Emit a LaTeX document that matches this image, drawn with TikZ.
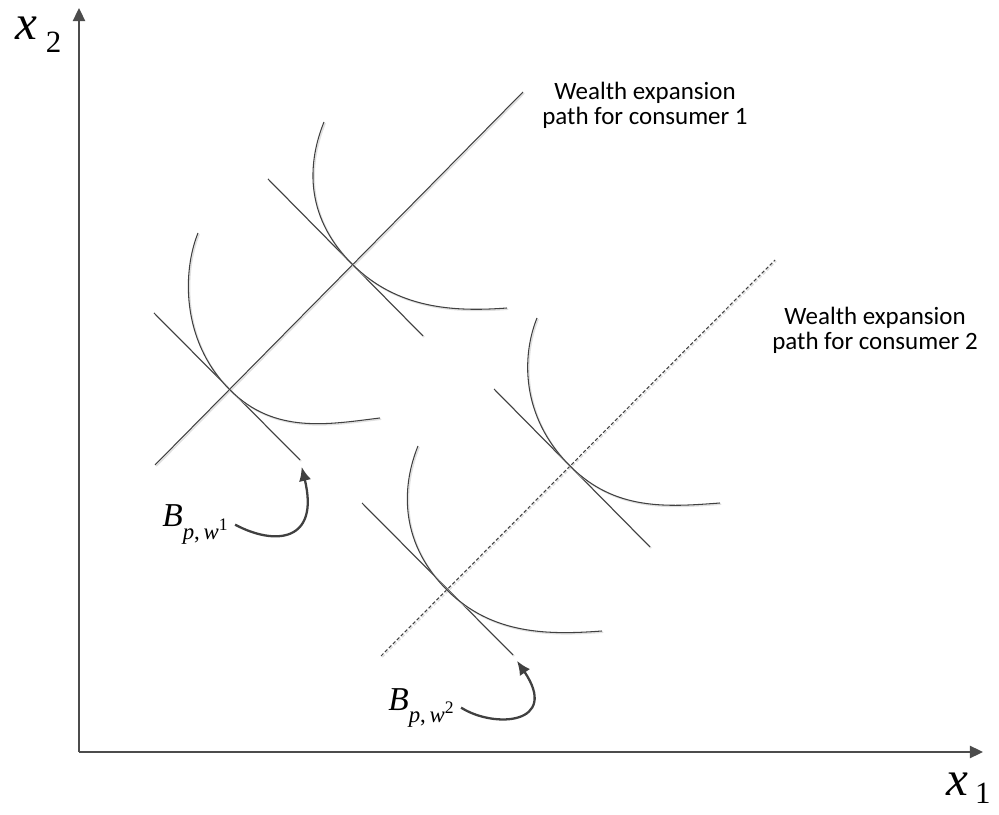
\documentclass[tikz,border=0pt]{standalone}
\usepackage{fontspec}
\setmainfont{Carlito}
\newfontfamily\eqfont{Liberation Serif}
\usetikzlibrary{arrows.meta}

\begin{document}
\begin{tikzpicture}[x=2cm, y=2cm,
	axis/.style={line width=1pt, color=black!70, -{Triangle[length=7.5pt, width=7pt]}},
	budget/.style={line width=0.6pt, color=black!75, preaction={draw, line width=0.8pt, color=black!12, transform canvas={shift={(0.7pt,-0.7pt)}}}},
	indiff/.style={budget},
	wealthone/.style={budget},
	wealthtwo/.style={line width=0.6pt, color=black!75, dash pattern=on 2pt off 1.2pt, preaction={draw, line width=0.8pt, color=black!12, dash pattern=on 2pt off 1.2pt, transform canvas={shift={(0.7pt,-0.7pt)}}}},
	pointer/.style={line width=1.3pt, color=black!75, -{Latex[length=8pt, width=7pt]}, shorten >=4pt},
	eqlabel/.style={inner sep=0pt, anchor=base west, font=\eqfont},
	note/.style={align=center, inner sep=0pt, font=\fontsize{14.2}{14.2}\selectfont}]
	\useasboundingbox (0,0) rectangle (9.99,8.14);

	% axes
	\coordinate (o) at (0.79,0.62);
	\coordinate (ytop) at (0.79,8.06);
	\coordinate (xend) at (9.83,0.62);
	\draw[axis] (o) -- (ytop);
	\draw[axis] (o) -- (xend);
	\node[eqlabel](xtwo) at (0.15,7.74){\fontsize{28}{28}\selectfont\textit{x}\hspace{5pt}\raisebox{-7.4pt}{\fontsize{17.6}{17.6}\selectfont 2}};
	\node[eqlabel](xone) at (9.46,0.19){\fontsize{28}{28}\selectfont\textit{x}\hspace{4pt}\raisebox{-5pt}{\fontsize{17.6}{17.6}\selectfont 1}};

	% wealth expansion paths
	\coordinate (p1s) at (1.55,3.49);
	\coordinate (p1e) at (5.23,7.22);
	\coordinate (p2s) at (3.81,1.58);
	\coordinate (p2e) at (7.75,5.54);
	\draw[wealthone] (p1s) -- (p1e);
	\draw[wealthtwo] (p2s) -- (p2e);
	\node[note](lab1) at (6.45,7.09){Wealth expansion\\path for consumer 1};
	\node[note](lab2) at (8.75,4.84){Wealth expansion\\path for consumer 2};

	% budget lines
	\coordinate (b1s) at (1.54,5.01);
	\coordinate (b1e) at (3.00,3.54);
	\coordinate (b2s) at (2.68,6.35);
	\coordinate (b2e) at (4.23,4.78);
	\coordinate (b3s) at (3.62,3.11);
	\coordinate (b3e) at (5.13,1.59);
	\coordinate (b4s) at (4.94,4.25);
	\coordinate (b4e) at (6.50,2.67);
	\draw[budget] (b1s) -- (b1e);
	\draw[budget] (b2s) -- (b2e);
	\draw[budget] (b3s) -- (b3e);
	\draw[budget] (b4s) -- (b4e);

	% indifference curves
	\coordinate (s1) at (1.98,5.81);
	\coordinate (t1) at (2.30,4.24);
	\coordinate (e1) at (3.80,3.96);
	\coordinate (s2) at (3.24,6.92);
	\coordinate (t2) at (3.52,5.50);
	\coordinate (e2) at (5.07,5.06);
	\coordinate (s3) at (4.18,3.68);
	\coordinate (t3) at (4.47,2.24);
	\coordinate (e3) at (6.02,1.83);
	\coordinate (s4) at (5.37,4.96);
	\coordinate (t4) at (5.70,3.48);
	\coordinate (e4) at (7.20,3.11);
	\draw[indiff] (s1) .. controls +(-0.15,-0.37) and +(-0.50,0.50) .. (t1) .. controls +(0.45,-0.45) and +(-0.50,-0.06) .. (e1);
	\draw[indiff] (s2) .. controls +(-0.15,-0.37) and +(-0.50,0.50) .. (t2) .. controls +(0.45,-0.45) and +(-0.53,-0.04) .. (e2);
	\draw[indiff] (s3) .. controls +(-0.15,-0.37) and +(-0.50,0.50) .. (t3) .. controls +(0.45,-0.45) and +(-0.53,-0.04) .. (e3);
	\draw[indiff] (s4) .. controls +(-0.15,-0.37) and +(-0.50,0.50) .. (t4) .. controls +(0.45,-0.45) and +(-0.53,-0.04) .. (e4);

	% budget set labels
	\node[eqlabel](lb1) at (1.62,2.87){\fontsize{19}{19}\selectfont\textit{B}\raisebox{-7pt}{\fontsize{13}{13}\selectfont\textit{p},\,\textit{w}\raisebox{5pt}{\fontsize{10}{10}\selectfont 1}}};
	\node[eqlabel](lb2) at (3.88,1.04){\fontsize{19}{19}\selectfont\textit{B}\raisebox{-7pt}{\fontsize{13}{13}\selectfont\textit{p},\,\textit{w}\raisebox{5pt}{\fontsize{10}{10}\selectfont 2}}};
	\draw[pointer] ([xshift=4pt]lb1.east) .. controls (2.75,2.68) and (3.20,2.72) .. (b1e);
	\draw[pointer] ([xshift=4pt]lb2.east) .. controls (4.95,0.85) and (5.60,0.90) .. (b3e);
\end{tikzpicture}
\end{document}
